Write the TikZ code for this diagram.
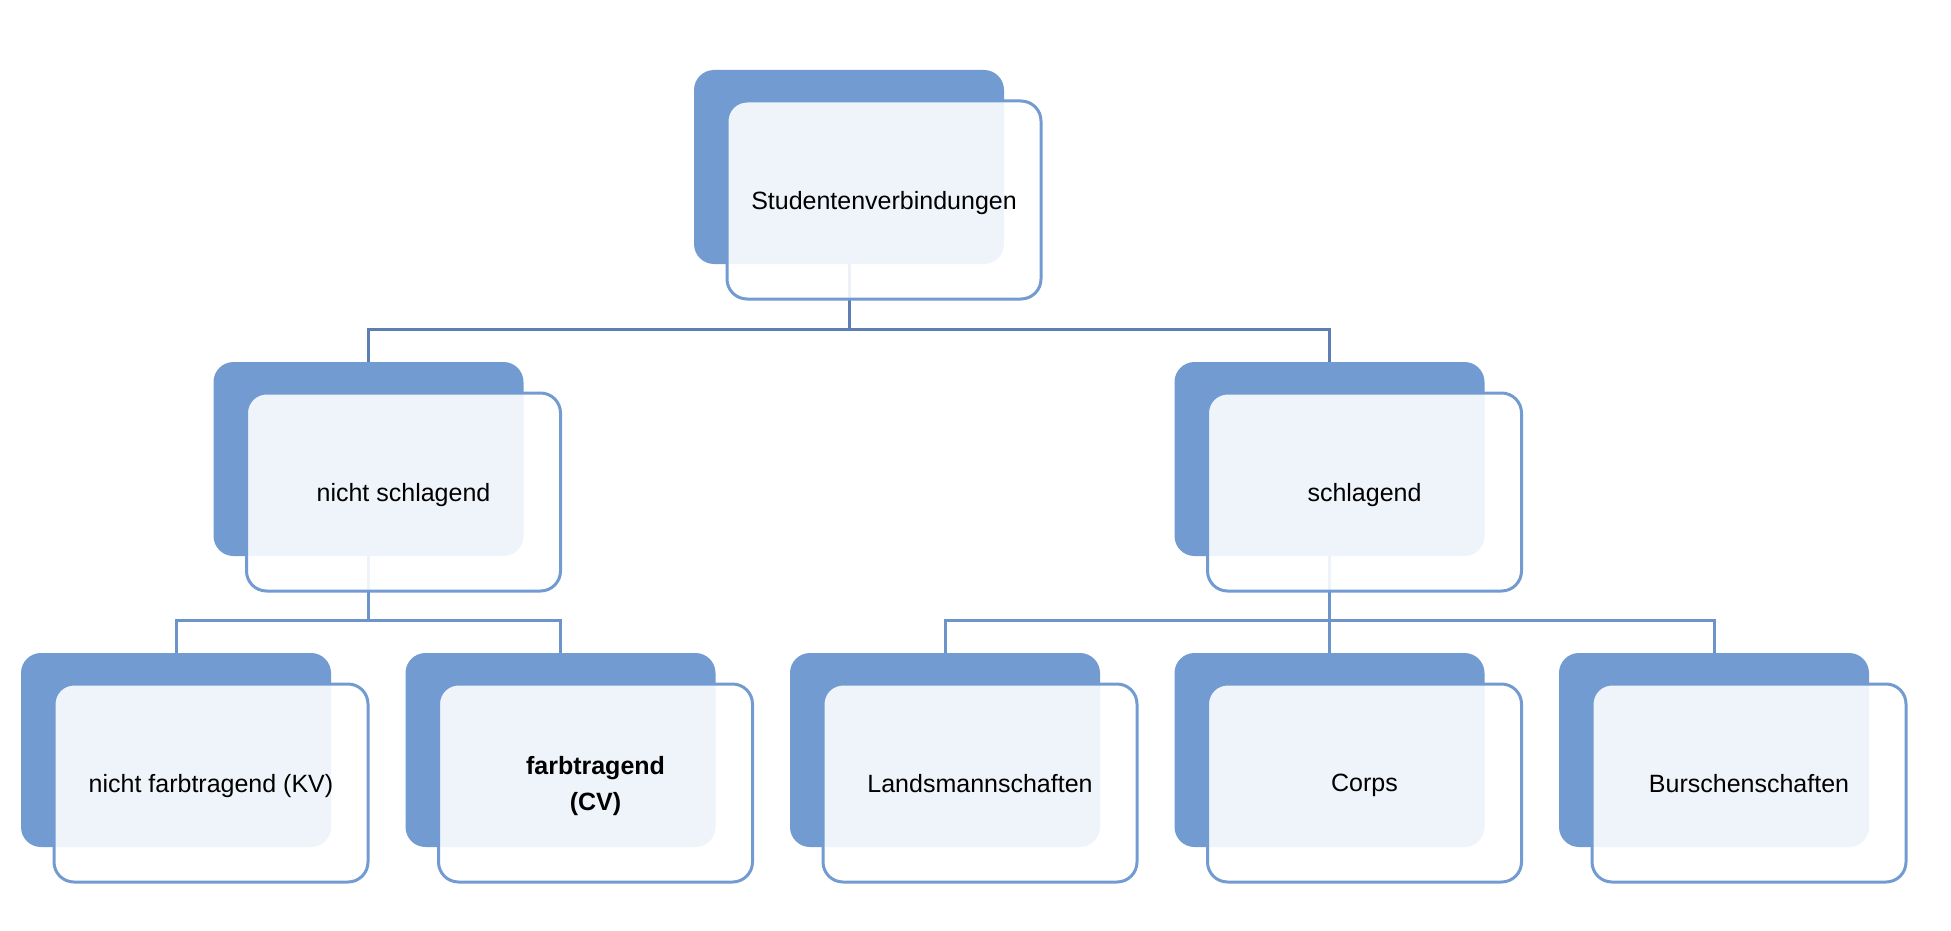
\documentclass[tikz,border=0pt]{standalone}
\usepackage{fontspec}
\setmainfont{Liberation Sans}
\definecolor{boxblue}{RGB}{114,155,210}
\definecolor{linkdark}{RGB}{92,126,178}
\definecolor{linklight}{RGB}{108,147,202}
\begin{document}
\begin{tikzpicture}[x=1pt,y=-1pt,
  backbox/.style={fill=boxblue, draw=none, rounded corners=20pt,
    minimum width=310pt, minimum height=194pt, inner sep=0pt},
  frontbox/.style={fill=white, fill opacity=0.89, text opacity=1,
    draw=boxblue, line width=3pt, rounded corners=20pt,
    minimum width=314pt, minimum height=198pt, inner sep=0pt,
    text depth=0pt,
    font=\fontsize{25}{36}\selectfont, align=center, text=black},
  linktop/.style={draw=linkdark, line width=3pt},
  linksub/.style={draw=linklight, line width=3pt}]
\useasboundingbox (0,0) rectangle (1951,931);

% back boxes
\node[backbox] (b1) at (849,167) {};
\node[backbox] (b2) at (368.5,459) {};
\node[backbox] (b3) at (1329.5,459) {};
\node[backbox] (b4) at (176,750) {};
\node[backbox] (b5) at (560.5,750) {};
\node[backbox] (b6) at (945,750) {};
\node[backbox] (b7) at (1329.5,750) {};
\node[backbox] (b8) at (1714,750) {};

% junctions
\coordinate (j1) at (849,329);
\coordinate (j2) at (368.5,620);
\coordinate (j3) at (1329.5,620);

% connectors
\draw[linktop] (b1.south) -- (j1);
\draw[linktop] (j1) -| (b2.north);
\draw[linktop] (j1) -| (b3.north);
\draw[linksub] (b2.south) -- (j2);
\draw[linksub] (j2) -| (b4.north);
\draw[linksub] (j2) -| (b5.north);
\draw[linksub] (b3.south) -- (j3);
\draw[linksub] (j3) -| (b6.north);
\draw[linksub] (j3) -- (b7.north);
\draw[linksub] (j3) -| (b8.north);

% front boxes
\node[frontbox] (f1) at (884,200) {Studentenverbindungen};
\node[frontbox] (f2) at (403.5,492) {nicht schlagend};
\node[frontbox] (f3) at (1364.5,492) {schlagend};
\node[frontbox] (f4) at (211,783) {nicht farbtragend (KV)};
\node[frontbox] (f5) at (595.5,783) {\textbf{farbtragend}\\\textbf{(CV)}};
\node[frontbox] (f6) at (980,783) {Landsmannschaften};
\node[frontbox] (f7) at (1364.5,783) {Corps};
\node[frontbox] (f8) at (1749,783) {Burschenschaften};
\end{tikzpicture}
\end{document}
